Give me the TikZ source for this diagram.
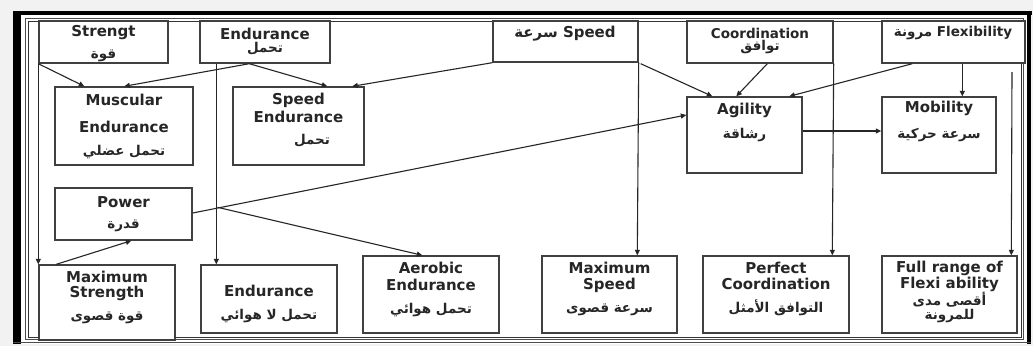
\documentclass[tikz,border=0pt]{standalone}
\usepackage{fontspec}
\setmainfont{DejaVu Sans}
\newfontfamily\arabicfont[Script=Arabic]{DejaVu Sans}
\TeXXeTstate=1
\usetikzlibrary{arrows.meta,shadows,calc}
\newcommand\ar[1]{{\arabicfont\beginR #1\endR}}
\newcommand\mybox[5]{\node[box, minimum width={#4pt-#2pt}, minimum height={#5pt-#3pt}] (#1) at ({(#2+#4)/2},{(#3+#5)/2}) {};}
\tikzset{
  box/.style={draw=black!75, line width=1.4pt, fill=white, inner sep=0pt,
    drop shadow={opacity=0.35, shadow xshift=1.2pt, shadow yshift=-1.2pt}},
  lat/.style={font=\bfseries\fontsize{15}{17}\selectfont, inner sep=0pt, text=black!85},
  sml/.style={font=\bfseries\fontsize{13.5}{15}\selectfont, inner sep=0pt, text=black!85},
  arb/.style={font=\bfseries\fontsize{13.5}{15}\selectfont, inner sep=0pt, text=black!85},
  con/.style={draw=black!85, line width=1.1pt, -{Triangle[length=5.5pt,width=5pt]}},
  frm/.style={line width=0.8pt}
}
\begin{document}
\begin{tikzpicture}[x=1pt,y=-1pt]
\useasboundingbox (0,0) rectangle (1033,346);
\fill[gray!10] (0,0) rectangle (1033,346);
\fill[white] (13,11) rectangle (1031,344);
% frame
\fill[black] (13,11) rectangle (21,344);
\fill[black] (13,11) rectangle (1032,15);
\fill[black] (1027,11) rectangle (1031,344);
\draw[black!70, line width=1.5pt] (13,342.5) -- (1031,342.5);
\draw[frm, black!70] (25,18) rectangle (1023,339);
\draw[frm, black!80] (28,21) rectangle (1021,337);
% boxes
\mybox{str}{39}{21}{168}{63}
\mybox{endT}{200}{21}{330}{63}
\mybox{spd}{493}{21}{638}{62}
\mybox{coo}{687}{21}{833}{63}
\mybox{flx}{882}{21}{1025}{63}
\mybox{mus}{55}{87}{193}{165}
\mybox{spe}{233}{87}{364}{165}
\mybox{agi}{687}{97}{802}{173}
\mybox{mob}{882}{97}{996}{173}
\mybox{pow}{55}{188}{192}{240}
\mybox{mxs}{39}{265}{175}{340}
\mybox{enb}{201}{265}{337}{333}
\mybox{aer}{363}{256}{499}{333}
\mybox{mxp}{542}{256}{677}{333}
\mybox{pco}{703}{256}{849}{333}
\mybox{ful}{882}{256}{1017}{333}
% texts
\node[lat] (str1) at (103.5,33) {Strengt};
\node[arb] (str2) at (103.5,56) {\ar{قوة}};
\node[lat] (endT1) at (265,34) {Endurance};
\node[arb] (endT2) at (265,49) {\ar{تحمل}};
\node[lat] (spd1) at (565,34) {\ar{سرعة} Speed};
\node[sml] (coo1) at (760,33) {Coordination};
\node[arb] (coo2) at (760,47) {\ar{توافق}};
\node[sml] (flx1) at (953,33) {\ar{مرونة} Flexibility};
\node[lat] (mus1) at (124,100) {Muscular};
\node[lat] (mus2) at (124,127) {Endurance};
\node[arb] (mus3) at (124,152) {\ar{تحمل عضلي}};
\node[lat] (spe1) at (298.5,100) {Speed};
\node[lat] (spe2) at (298.5,117) {Endurance};
\node[arb] (spe3) at (312,141) {\ar{تحمل}};
\node[lat] (agi1) at (744.5,110) {Agility};
\node[arb] (agi2) at (744.5,135) {\ar{رشاقة}};
\node[lat] (mob1) at (939,108) {Mobility};
\node[arb] (mob2) at (939,135) {\ar{سرعة حركية}};
\node[lat] (pow1) at (123.5,202) {Power};
\node[arb] (pow2) at (123.5,226) {\ar{قدرة}};
\node[lat] (mxs1) at (107,277) {Maximum};
\node[lat] (mxs2) at (107,293) {Strength};
\node[arb] (mxs3) at (107,318) {\ar{قوة قصوى}};
\node[lat] (enb1) at (269,291) {Endurance};
\node[arb] (enb2) at (269,316) {\ar{تحمل لا هوائي}};
\node[lat] (aer1) at (431,268) {Aerobic};
\node[lat] (aer2) at (431,285) {Endurance};
\node[arb] (aer3) at (431,310) {\ar{تحمل هوائي}};
\node[lat] (mxp1) at (609.5,268) {Maximum};
\node[lat] (mxp2) at (609.5,285) {Speed};
\node[arb] (mxp3) at (609.5,310) {\ar{سرعة قصوى}};
\node[lat] (pco1) at (776,268) {Perfect};
\node[lat] (pco2) at (776,284) {Coordination};
\node[arb] (pco3) at (776,308) {\ar{التوافق الأمثل}};
\node[lat] (ful1) at (949.5,268) {Full range of};
\node[lat] (ful2) at (949.5,284) {Flexi ability};
\node[arb] (ful3) at (949.5,300) {\ar{أقصى مدى}};
\node[arb] (ful4) at (949.5,316) {\ar{للمرونة}};
% connectors
\draw[con] (str.south west) -- ($(mus.north west)+(30,0)$);
\draw[con] ($(endT.south west)+(50,0)$) -- ($(mus.north west)+(70,0)$);
\draw[con] ($(endT.south west)+(50,0)$) -- ($(spe.north west)+(95,0)$);
\draw[con] (spd.south west) -- ($(spe.north west)+(120,0)$);
\draw[con] ($(spd.south east)+(2,1)$) -- ($(agi.north west)+(26,0)$);
\draw[con] ($(coo.south west)+(81,0)$) -- ($(agi.north west)+(50,0)$);
\draw[con] ($(flx.south west)+(31,0)$) -- ($(agi.north west)+(103,0)$);
\draw[con] ($(flx.south west)+(81,0)$) -- ($(mob.north west)+(81,0)$);
\draw[con] ($(agi.east)+(0,-4)$) -- ($(mob.west)+(0,-4)$);
\draw[con] (str.south west) -- (mxs.north west);
\draw[con] ($(endT.south west)+(17,0)$) -- ($(enb.north west)+(16,0)$);
\draw[con] (spd.south east) -- ($(mxp.north west)+(96,0)$);
\draw[con] (coo.south east) -- ($(pco.north west)+(130,0)$);
\coordinate (fr) at (1012,72);
\draw[con] (fr) -- ($(ful.north west)+(130,0)$);
\draw[con] ($(mxs.north west)+(18,0)$) -- ($(pow.south west)+(77,0)$);
\draw[con] ($(pow.east)+(0,-1)$) -- ($(agi.west)+(0,-20)$);
\coordinate (jn) at (217.5,207.3);
\draw[con] (jn) -- ($(aer.north west)+(60,0)$);
\end{tikzpicture}
\end{document}
